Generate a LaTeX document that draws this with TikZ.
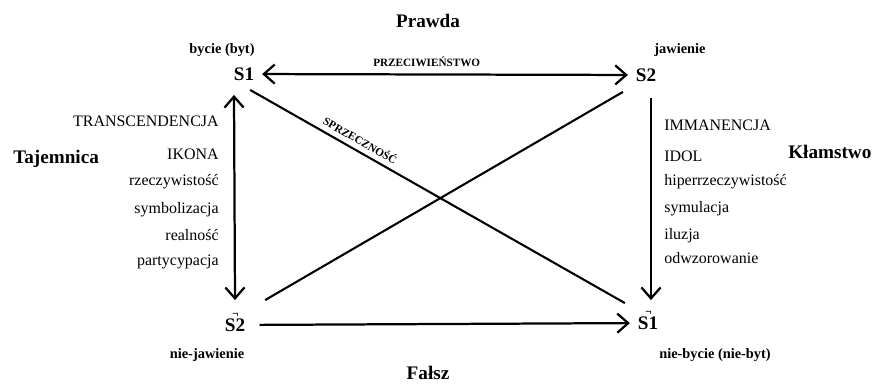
\documentclass[tikz,border=0pt]{standalone}
\usepackage{fontspec}
\setmainfont{Liberation Serif}
\usetikzlibrary{arrows.meta, calc}
\newcommand{\negS}[1]{S\makebox[0pt]{\raisebox{8.5pt}[0pt][0pt]{\scriptsize ¬}}#1}

\begin{document}
\begin{tikzpicture}[x=0.022cm, y=-0.022cm,
    vertex/.style={font=\large\bfseries, inner sep=1pt, outer sep=4pt},
    pole/.style={font=\large\bfseries, anchor=base, inner sep=0pt},
    tag/.style={font=\small\bfseries, anchor=base, inner sep=0pt},
    relation/.style={font=\scriptsize\bfseries},
    link/.style={line width=1.4pt, -{Straight Barb[length=2.4mm,width=4.2mm]}},
    dbllink/.style={line width=1.4pt, {Straight Barb[length=2.4mm,width=4.2mm]}-{Straight Barb[length=2.4mm,width=4.2mm]}},
    cross/.style={line width=1.3pt}]
  \useasboundingbox (0,0) rectangle (879,383);

  % corners of the square
  \node[vertex] (s1) at (244,74) {S1};
  \node[vertex] (s2) at (646,75) {S2};
  \node[vertex] (ns2) at (235,325) {\negS{2}};
  \node[vertex] (ns1) at (648,323) {\negS{1}};

  \node[tag] (byt) at (222,53) {bycie (byt)};
  \node[tag] (jaw) at (680,53) {jawienie};
  \node[tag] (niejaw) at (207,358) {nie-jawienie};
  \node[tag] (niebyt) at (715,358) {nie-bycie (nie-byt)};

  % poles
  \node[pole] (prawda) at (428,27) {Prawda};
  \node[pole] (falsz) at (428,379) {Fałsz};
  \node[pole, anchor=base west] (tajem) at (13,163) {Tajemnica};
  \node[pole, anchor=base west] (klam) at (788,158) {Kłamstwo};

  % left column
  \node[anchor=base east, inner sep=0pt] (l1) at (219,126) {TRANSCENDENCJA};
  \node[anchor=base east, inner sep=0pt] (l2) at (219,159) {IKONA};
  \node[anchor=base east, inner sep=0pt] (l3) at (219,185) {rzeczywistość};
  \node[anchor=base east, inner sep=0pt] (l4) at (219,213) {symbolizacja};
  \node[anchor=base east, inner sep=0pt] (l5) at (219,240) {realność};
  \node[anchor=base east, inner sep=0pt] (l6) at (219,265) {partycypacja};

  % right column
  \node[anchor=base west, inner sep=0pt] (r1) at (664,130) {IMMANENCJA};
  \node[anchor=base west, inner sep=0pt] (r2) at (664,161) {IDOL};
  \node[anchor=base west, inner sep=0pt] (r3) at (664,185) {hiperrzeczywistość};
  \node[anchor=base west, inner sep=0pt] (r4) at (664,212) {symulacja};
  \node[anchor=base west, inner sep=0pt] (r5) at (664,239) {iluzja};
  \node[anchor=base west, inner sep=0pt] (r6) at (664,263) {odwzorowanie};

  % relations
  \draw[dbllink] (s1) -- node[relation, above=1pt, pos=0.45] (przec) {PRZECIWIEŃSTWO} (s2);
  \draw[link, shorten <=4pt] (ns2) -- (ns1);
  \draw[dbllink] ($(s1.south)+(-10,6.5)$) -- ($(ns2.north)+(0,-10.5)$);
  \draw[link] ($(s2.south)+(5,8.5)$) -- ($(ns1.north)+(3,-8.5)$);
  \draw[cross] ($(s1.south east)+(-12,1.5)$) --
    node[relation, sloped, above, pos=0.28] (sprz) {SPRZECZNOŚĆ}
    ($(ns1.north west)+(-5,-5.5)$);
  \draw[cross] ($(ns2.north east)+(12,-10.5)$) -- ($(s2.south west)+(-5,2.5)$);
\end{tikzpicture}
\end{document}
